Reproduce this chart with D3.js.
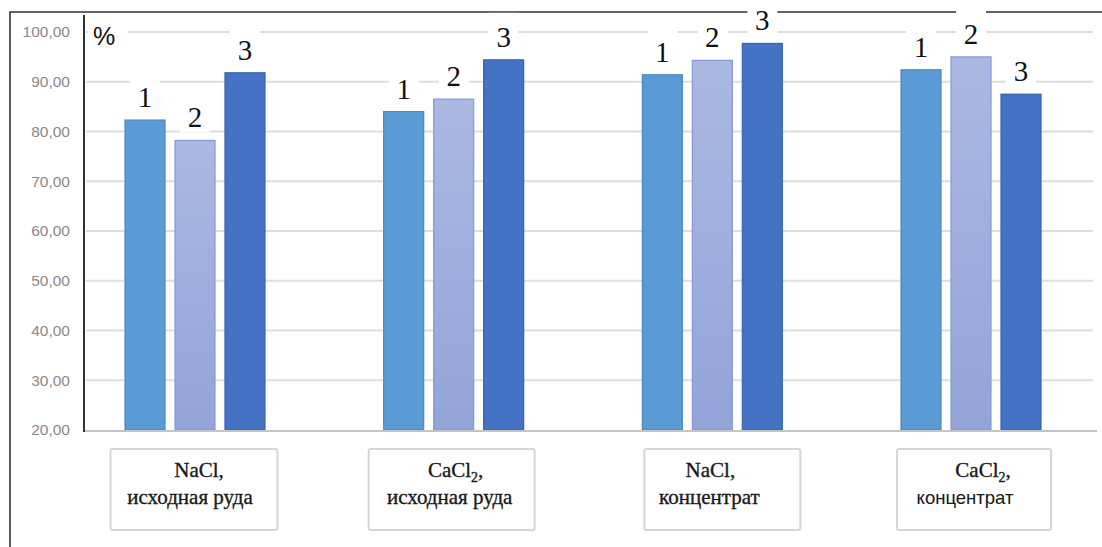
<!DOCTYPE html>
<html>
<head>
<meta charset="utf-8">
<script src="https://cdn.jsdelivr.net/npm/d3@7"></script>
<style>
  html, body { margin: 0; padding: 0; background: #fff; }
  svg { display: block; }
</style>
</head>
<body>
<svg id="chart" width="1102" height="547"></svg>
<script>
// Groups (first line is the salt formula, second line the material)
const categories = ["NaCl, исходная руда", "CaCl2, исходная руда", "NaCl, концентрат", "CaCl2, концентрат"];
const saltLines = [["NaCl,"], ["CaCl", "2", ","], ["NaCl,"], ["CaCl", "2", ","]];
const materialLines = ["исходная руда", "исходная руда", "концентрат", "концентрат"];
const seriesKeys = ["1", "2", "3"];
// Percent values per series, one entry per group
const series1 = [82.3, 84.0, 91.4, 92.4];
const series2 = [78.2, 86.5, 94.3, 95.0];
const series3 = [91.8, 94.4, 97.7, 87.5];
const yTicks = [20, 30, 40, 50, 60, 70, 80, 90, 100];

const seriesValues = [series1, series2, series3];
const data = categories.map((c, i) => ({
  cat: c,
  values: seriesKeys.map((k, j) => ({ key: k, value: seriesValues[j][i] }))
}));

const svg = d3.select("#chart");

const plotLeft = 84, plotRight = 1093, plotTop = 32, plotBottom = 430;

const x = d3.scaleBand().domain(categories).range([plotLeft, 1082])
  .paddingInner(0.455).paddingOuter(0.1566);
const xInner = d3.scaleBand().domain(seriesKeys).range([0, x.bandwidth()])
  .paddingInner(0.18).paddingOuter(0);
const y = d3.scaleLinear().domain([20, 100]).range([plotBottom, plotTop]);

// gradient for the second series
const defs = svg.append("defs");
const g2 = defs.append("linearGradient").attr("id", "s2grad")
  .attr("x1", 0).attr("y1", 0).attr("x2", 0).attr("y2", 1);
g2.append("stop").attr("offset", "0%").attr("stop-color", "#abb8e2");
g2.append("stop").attr("offset", "100%").attr("stop-color", "#93a4d9");

const fills = { "1": "#5b9bd5", "2": "url(#s2grad)", "3": "#4472c4" };
const strokes = { "1": "#4a88c4", "2": "#8598d6", "3": "#3a62b0" };

// gridlines
svg.append("g").selectAll("line").data(yTicks.filter(t => t > 20)).join("line")
  .attr("x1", plotLeft + 2).attr("x2", plotRight)
  .attr("y1", d => y(d)).attr("y2", d => y(d))
  .attr("stroke", "#dedede").attr("stroke-width", 2);

// outer frame (left and top edges)
svg.append("path").attr("d", "M10,547 V12 H1102")
  .attr("fill", "none").attr("stroke", "#333").attr("stroke-width", 1.6);

// y axis tick labels
const yAxis = d3.axisLeft(y).tickValues(yTicks)
  .tickFormat(d => d3.format(".2f")(d).replace(".", ","))
  .tickSize(0).tickPadding(14);
const yG = svg.append("g").attr("transform", `translate(${plotLeft},0)`).call(yAxis);
yG.select(".domain").remove();
yG.selectAll("text").attr("font-family", "Liberation Sans, Arial, sans-serif")
  .attr("font-size", 15.5).attr("fill", "#8a8a8a");

// bars
const groups = svg.append("g").selectAll("g").data(data).join("g")
  .attr("transform", d => `translate(${x(d.cat)},0)`);

groups.selectAll("rect").data(d => d.values).join("rect")
  .attr("x", d => xInner(d.key) + 0.5)
  .attr("width", xInner.bandwidth() - 1)
  .attr("y", d => y(d.value))
  .attr("height", d => y(20) - y(d.value))
  .attr("fill", d => fills[d.key])
  .attr("stroke", d => strokes[d.key]).attr("stroke-width", 1.2);

// x axis baseline
svg.append("line").attr("x1", plotLeft).attr("x2", 1097)
  .attr("y1", plotBottom + 1).attr("y2", plotBottom + 1)
  .attr("stroke", "#c4c4c4").attr("stroke-width", 2);

// y axis line
svg.append("line").attr("x1", plotLeft).attr("x2", plotLeft)
  .attr("y1", 15).attr("y2", plotBottom + 2)
  .attr("stroke", "#333").attr("stroke-width", 2);

// unit label
svg.append("rect").attr("x", 88).attr("y", 16).attr("width", 40).attr("height", 34).attr("fill", "#fff");
svg.append("text").attr("x", 93).attr("y", 45)
  .attr("font-family", "Liberation Sans, Arial, sans-serif").attr("font-size", 25)
  .attr("fill", "#111").text("%");

// series number labels above each bar, on white boxes
const lbl = groups.selectAll("g.lbl").data(d => d.values).join("g").attr("class", "lbl")
  .attr("transform", d => `translate(${xInner(d.key) + xInner.bandwidth() / 2},${y(d.value) - 13})`);
lbl.append("rect").attr("x", -15).attr("y", -34).attr("width", 30).attr("height", 39).attr("fill", "#fff");
lbl.append("text").attr("text-anchor", "middle")
  .attr("font-family", "Liberation Serif, Times New Roman, serif").attr("font-size", 29)
  .attr("fill", "#111").text(d => d.key);

// category boxes: each box has its own width and small text offsets
const boxLayout = [
  { dx: -1, w: 167, t1: 4, t2: -5 },
  { dx: -2, w: 166, t1: 2, t2: -4 },
  { dx: 10, w: 156, t1: -2, t2: -3 },
  { dx: 3, w: 154, t1: 12, t2: -6 }
];
const boxTop = 449, boxH = 81;
const cats = svg.append("g").selectAll("g").data(categories).join("g")
  .attr("transform", (d, i) => `translate(${x(d) + x.bandwidth() / 2},0)`);

cats.each(function (d, i) {
  const g = d3.select(this);
  const L = boxLayout[i];
  g.append("rect").attr("x", L.dx - L.w / 2).attr("y", boxTop).attr("width", L.w).attr("height", boxH)
    .attr("fill", "#fff").attr("stroke", "#d6d6d6").attr("stroke-width", 2).attr("rx", 2);
  const s = saltLines[i];
  const t1 = g.append("text").attr("text-anchor", "middle").attr("x", L.t1).attr("y", 477)
    .attr("font-family", "Liberation Serif, Times New Roman, serif").attr("font-size", 21)
    .attr("fill", "#1a1a1a").attr("stroke", "#1a1a1a").attr("stroke-width", 0.35);
  t1.append("tspan").text(s[0]);
  if (s.length === 3) {
    t1.append("tspan").attr("font-size", 14).attr("dy", 5).text(s[1]);
    t1.append("tspan").attr("dy", -5).text(s[2]);
  }
  const sans = i === 3;
  g.append("text").attr("text-anchor", "middle").attr("x", L.t2).attr("y", 504)
    .attr("font-family", sans ? "Liberation Sans, Arial, sans-serif" : "Liberation Serif, Times New Roman, serif")
    .attr("font-size", sans ? 18.5 : 21)
    .attr("fill", "#1a1a1a").attr("stroke", "#1a1a1a").attr("stroke-width", sans ? 0.1 : 0.35)
    .text(materialLines[i]);
});
</script>
</body>
</html>
